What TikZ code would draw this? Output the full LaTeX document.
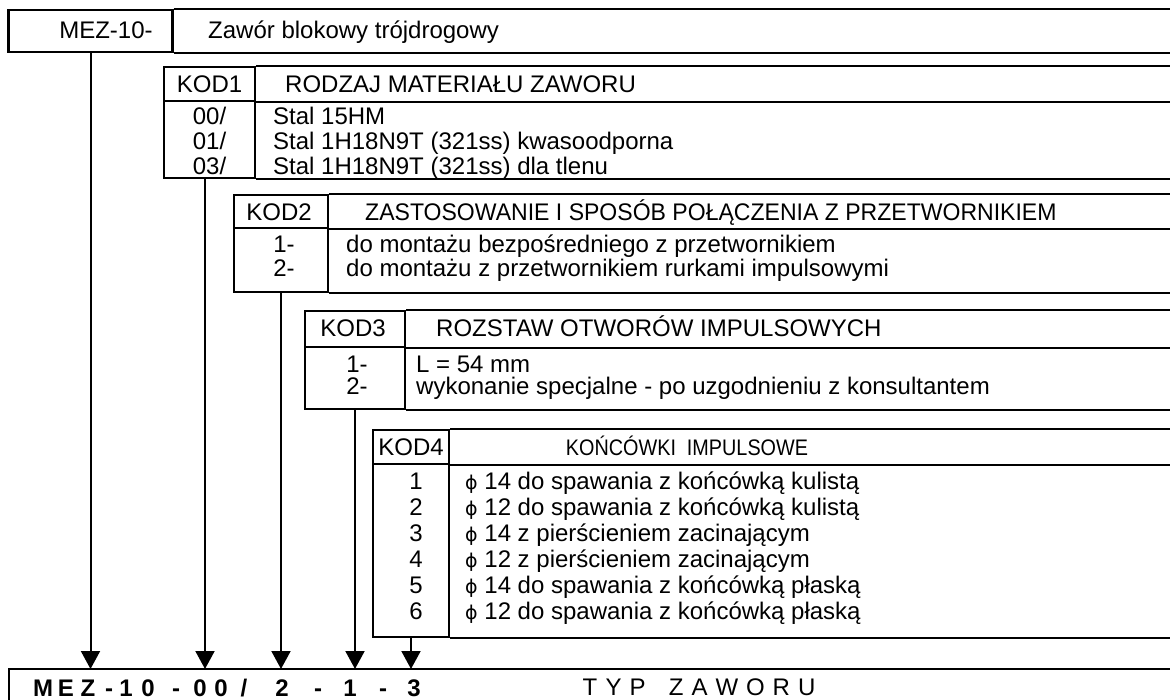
\documentclass[tikz,border=0pt]{standalone}
\usepackage{fontspec}
\setmainfont{Liberation Sans}
\newfontfamily\narrowfont[FakeStretch=0.88]{Liberation Sans}
\newfontfamily\tightfont[FakeStretch=0.96]{Liberation Sans}
\newfontfamily\symbolfont{DejaVu Sans}
\usetikzlibrary{arrows.meta}
\newcommand{\srednica}{{\symbolfont\fontsize{19}{20}\selectfont ϕ}}

\begin{document}
\begin{tikzpicture}[
  x=1pt, y=-1pt,
  >={Triangle[length=18pt, width=19pt]},
  codecell/.style={draw, line width=2.2pt, inner sep=0pt},
  rule/.style={line width=2.2pt},
  link/.style={->, line width=2pt},
  lbl/.style={anchor=base, inner sep=0pt, font=\fontsize{24}{26}\selectfont},
  desc/.style={lbl, anchor=base west},
  subtitle/.style={anchor=base, inner sep=0pt, font=\narrowfont\fontsize{22.5}{24}\selectfont},
  typecode/.style={anchor=base, inner sep=0pt, font=\fontsize{24}{26}\selectfont\bfseries}
]
\useasboundingbox (0,0) rectangle (1170,700);

\coordinate (edge) at (1170,0);
\coordinate (base) at (9,669);

% kod glowny
\node[codecell, minimum width=164pt, minimum height=42pt] (mez) at (90.5,31) {};
\draw[rule] (mez.north east) -- (mez.north east -| edge) (mez.south east) -- (mez.south east -| edge);
\node[lbl]  (mez-code) at (106,39) {MEZ-10-};
\node[desc] (mez-desc) at (208,39) {Zawór blokowy trójdrogowy};

% tabele KOD1..KOD4
\node[codecell, minimum width=91pt, minimum height=34pt]  (k1-head) at (209.5,84)    {};
\node[codecell, minimum width=91pt, minimum height=77pt]  (k1-body) at (209.5,139.5) {};
\node[codecell, minimum width=94pt, minimum height=33pt]  (k2-head) at (281,211.5)   {};
\node[codecell, minimum width=94pt, minimum height=64pt]  (k2-body) at (281,260)     {};
\node[codecell, minimum width=100pt, minimum height=36pt] (k3-head) at (355,329)     {};
\node[codecell, minimum width=100pt, minimum height=62pt] (k3-body) at (355,378)     {};
\node[codecell, minimum width=76pt, minimum height=34pt]  (k4-head) at (411,447)     {};
\node[codecell, minimum width=76pt, minimum height=173pt] (k4-body) at (411,550.5)   {};

\foreach \t in {k1,k2,k3,k4}
  \draw[rule] (\t-head.north east) -- (\t-head.north east -| edge)
              (\t-head.south east) -- (\t-head.south east -| edge)
              (\t-body.south east) -- (\t-body.south east -| edge);

% KOD1
\node[lbl]  (k1-tag)   at (209.5,93) {KOD1};
\node[desc] (k1-title) at (285,93)   {RODZAJ MATERIAŁU ZAWORU};
\node[lbl]  (k1-c1) at (209.5,125) {00/};
\node[lbl]  (k1-c2) at (209.5,150) {01/};
\node[lbl]  (k1-c3) at (209.5,175) {03/};
\node[desc] (k1-d1) at (273,125) {Stal 15HM};
\node[desc] (k1-d2) at (273,150) {Stal 1H18N9T (321ss) kwasoodporna};
\node[desc] (k1-d3) at (273,175) {Stal 1H18N9T (321ss) dla tlenu};

% KOD2
\node[lbl]  (k2-tag)   at (279,221) {KOD2};
\node[desc, font=\tightfont\fontsize{24}{26}\selectfont] (k2-title) at (365,221) {ZASTOSOWANIE I SPOSÓB POŁĄCZENIA Z PRZETWORNIKIEM};
\node[lbl]  (k2-c1) at (284,253) {1-};
\node[lbl]  (k2-c2) at (284,277) {2-};
\node[desc] (k2-d1) at (346,253) {do montażu bezpośredniego z przetwornikiem};
\node[desc] (k2-d2) at (346,277) {do montażu z przetwornikiem rurkami impulsowymi};

% KOD3
\node[lbl]  (k3-tag)   at (353,337) {KOD3};
\node[desc] (k3-title) at (436,337) {ROZSTAW OTWORÓW IMPULSOWYCH};
\node[lbl]  (k3-c1) at (357,373) {1-};
\node[lbl]  (k3-c2) at (357,395) {2-};
\node[desc] (k3-d1) at (416,373) {L = 54 mm};
\node[desc] (k3-d2) at (416,395) {wykonanie specjalne - po uzgodnieniu z konsultantem};

% KOD4
\node[lbl]      (k4-tag)   at (411,455) {KOD4};
\node[subtitle] (k4-title) at (687,455) {KOŃCÓWKI\ \ IMPULSOWE};
\foreach \y/\c/\d [count=\i] in {
    489/1/{14 do spawania z końcówką kulistą},
    515/2/{12 do spawania z końcówką kulistą},
    541/3/{14 z pierścieniem zacinającym},
    567/4/{12 z pierścieniem zacinającym},
    593/5/{14 do spawania z końcówką płaską},
    619/6/{12 do spawania z końcówką płaską}} {
  \node[lbl]  (k4-c\i) at (416,\y) {\c};
  \node[desc] (k4-d\i) at (465,\y) {\srednica\ \d};
}

% strzalki do kodu typu
\draw[link] (mez.south) -- (mez.south |- base);
\draw[link] ([xshift=-4.5pt]k1-body.south) -- ([xshift=-4.5pt]k1-body.south |- base);
\foreach \t in {k2,k3,k4}
  \draw[link] (\t-body.south) -- (\t-body.south |- base);

% typ zaworu
\draw[rule] (9,700) -- (base) -- (base -| edge);
\foreach \x/\c [count=\i] in {43/M,66/E,88/Z,109/-,126/1,148/0,176/-,200/0,221/0,
    244/{/},282/2,318/-,350/1,383/-,414/3}
  \node[typecode] (code\i) at (\x,696) {\c};
\foreach \x/\c [count=\i] in {590/T,613.5/Y,637.5/P,676.2/Z,699.6/A,726.9/W,755.4/O,781.4/R,806.8/U}
  \node[lbl] (typ\i) at (\x,695) {\c};

\end{tikzpicture}
\end{document}
